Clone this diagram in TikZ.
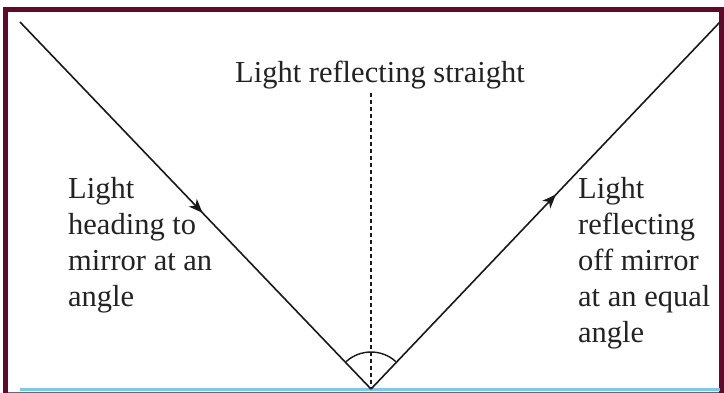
\documentclass[tikz,border=0pt]{standalone}
\usepackage{fontspec}
\setmainfont{Liberation Serif}
\usetikzlibrary{arrows.meta,decorations.markings}
\definecolor{framecol}{RGB}{98,8,42}
\definecolor{mirrorcol}{RGB}{120,200,240}
\definecolor{mirrordark}{RGB}{80,110,140}
\definecolor{textcol}{RGB}{35,35,35}
\definecolor{raycol}{RGB}{25,25,25}
\tikzset{
  lbl/.style={inner sep=0pt, text=textcol, font=\fontsize{30.5}{36}\selectfont, align=left},
  ray/.style={draw=raycol, line width=1.6pt},
  midarrow/.style={postaction={decorate}, decoration={markings,
     mark=at position #1 with {\arrow{Stealth[length=14pt,width=11pt,inset=4pt]}}}},
}
\begin{document}
\begin{tikzpicture}[x=1pt,y=-1pt]
\useasboundingbox (0,0) rectangle (724,392);
\fill[white] (0,0) rectangle (724,392);
% frame
\draw[framecol, line width=5.3pt] (5.3,9.8) rectangle (721.4,396);
% mirror
\draw[mirrorcol, line width=3pt] (20,389.5) -- (720,389.5);
\draw[mirrordark, line width=1pt] (8,392) -- (719,392);
% points
\coordinate (A) at (20,22);
\coordinate (O) at (371,389);
\coordinate (B) at (720,22);
\coordinate (T) at (371,93);
% rays
\draw[ray, midarrow=0.52] (A) -- (O);
\draw[ray, midarrow=0.53] (O) -- (B);
% normal
\draw[raycol, line width=1.2pt, dash pattern=on 4pt off 3pt] (T) -- (O);
% angle arc
\draw[raycol, line width=1.4pt] ([shift={(228:37)}]O) arc[start angle=228, end angle=312, radius=37];
% labels
\node[lbl, anchor=base] (top) at (380,82) {Light reflecting straight};
\node[lbl, anchor=north west] (left) at (68,177.5) {Light\\heading to\\mirror at an\\angle};
\node[lbl, anchor=north west] (right) at (578,177.5) {Light\\reflecting\\off mirror\\at an equal\\angle};
\end{tikzpicture}
\end{document}
